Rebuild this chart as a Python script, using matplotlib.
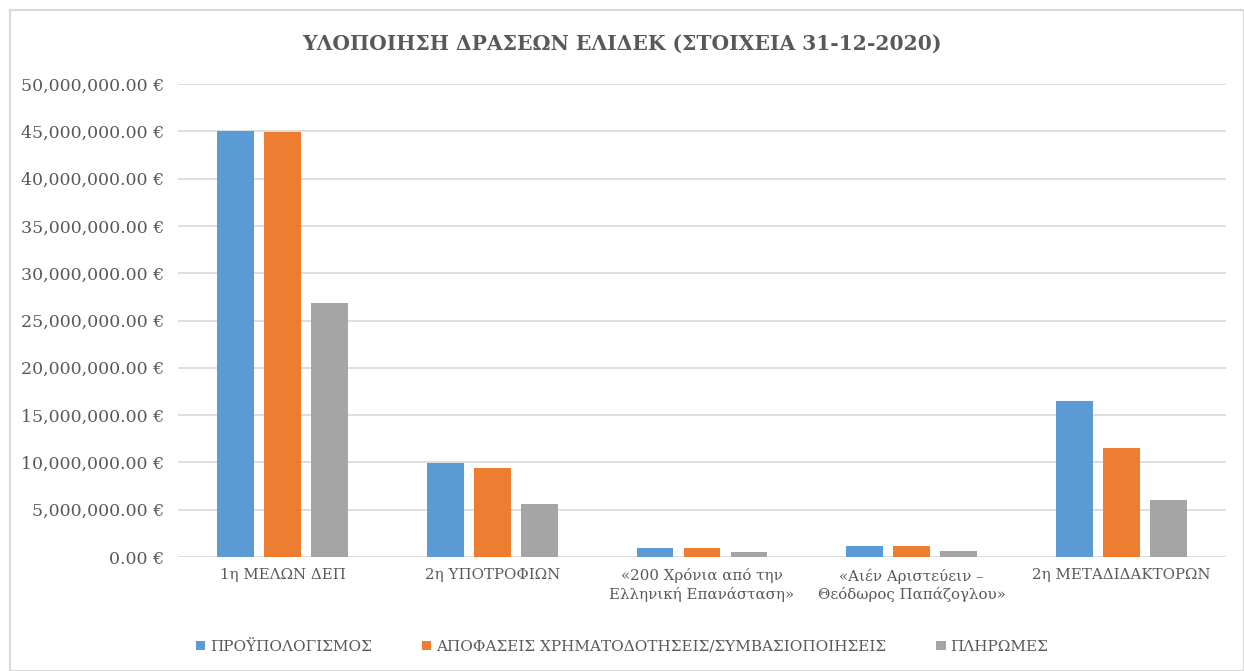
import matplotlib.pyplot as plt
import numpy as np
from matplotlib.patches import Rectangle
from matplotlib.ticker import FuncFormatter

plt.rcParams['font.family'] = ['DejaVu Serif']

categories = ["1η ΜΕΛΩΝ ΔΕΠ", "2η ΥΠΟΤΡΟΦΙΩΝ", "«200 Χρόνια από την\nΕλληνική Επανάσταση»",
              "«Αιέν Αριστεύειν –\nΘεόδωρος Παπάζογλου»", "2η ΜΕΤΑΔΙΔΑΚΤΟΡΩΝ"]
series_names = ["ΠΡΟΫΠΟΛΟΓΙΣΜΟΣ", "ΑΠΟΦΑΣΕΙΣ ΧΡΗΜΑΤΟΔΟΤΗΣΕΙΣ/ΣΥΜΒΑΣΙΟΠΟΙΗΣΕΙΣ", "ΠΛΗΡΩΜΕΣ"]
budget = [45000000, 9950000, 950000, 1160000, 16500000]
decisions = [44900000, 9400000, 950000, 1160000, 11500000]
payments = [26850000, 5600000, 500000, 680000, 6000000]
colors = ["#5b9bd5", "#ed7d31", "#a5a5a5"]

fig = plt.figure(figsize=(12.44, 6.71), dpi=100)
ax = fig.add_axes([178 / 1244, 1 - 557 / 671, 1048 / 1244, 473 / 671])

x = np.arange(len(categories))
w = 0.176
step = 0.224
for i, (vals, c, name) in enumerate(zip([budget, decisions, payments], colors, series_names)):
    ax.bar(x + (i - 1) * step, vals, width=w, color=c, label=name, zorder=3)

ax.set_xlim(-0.5, len(categories) - 0.5)
ax.set_ylim(0, 50000000)
ax.set_yticks(np.arange(0, 50000001, 5000000))
ax.yaxis.set_major_formatter(FuncFormatter(lambda v, p: f"{v:,.2f} €"))
ax.grid(axis='y', color='#d9d9d9', linewidth=1.2, zorder=0)
for s in ax.spines.values():
    s.set_visible(False)
ax.tick_params(axis='y', length=0, labelsize=12.5, colors='#595959', pad=10)
ax.tick_params(axis='x', length=0, labelsize=10.8, colors='#595959', pad=8)
ax.set_xticks(x)
ax.set_xticklabels(categories, linespacing=1.3)

fig.text(0.5, 1 - 44 / 671, "ΥΛΟΠΟΙΗΣΗ ΔΡΑΣΕΩΝ ΕΛΙΔΕΚ (ΣΤΟΙΧΕΙΑ 31-12-2020)",
         ha='center', va='center', fontsize=14.6, fontweight='bold', color='#595959')

fig.legend(loc='center', bbox_to_anchor=(0.5, 1 - 647 / 671), ncol=3, frameon=False,
           fontsize=11, labelcolor='#595959', handlelength=0.6, handleheight=0.6,
           handletextpad=0.3, columnspacing=3.3)

fig.patches.append(Rectangle((10 / 1244, 0), 1 - 10 / 1244, 1 - 10 / 671, transform=fig.transFigure,
                             fill=False, edgecolor='#d9d9d9', linewidth=1.5))

fig.savefig("out.png", dpi=100)
